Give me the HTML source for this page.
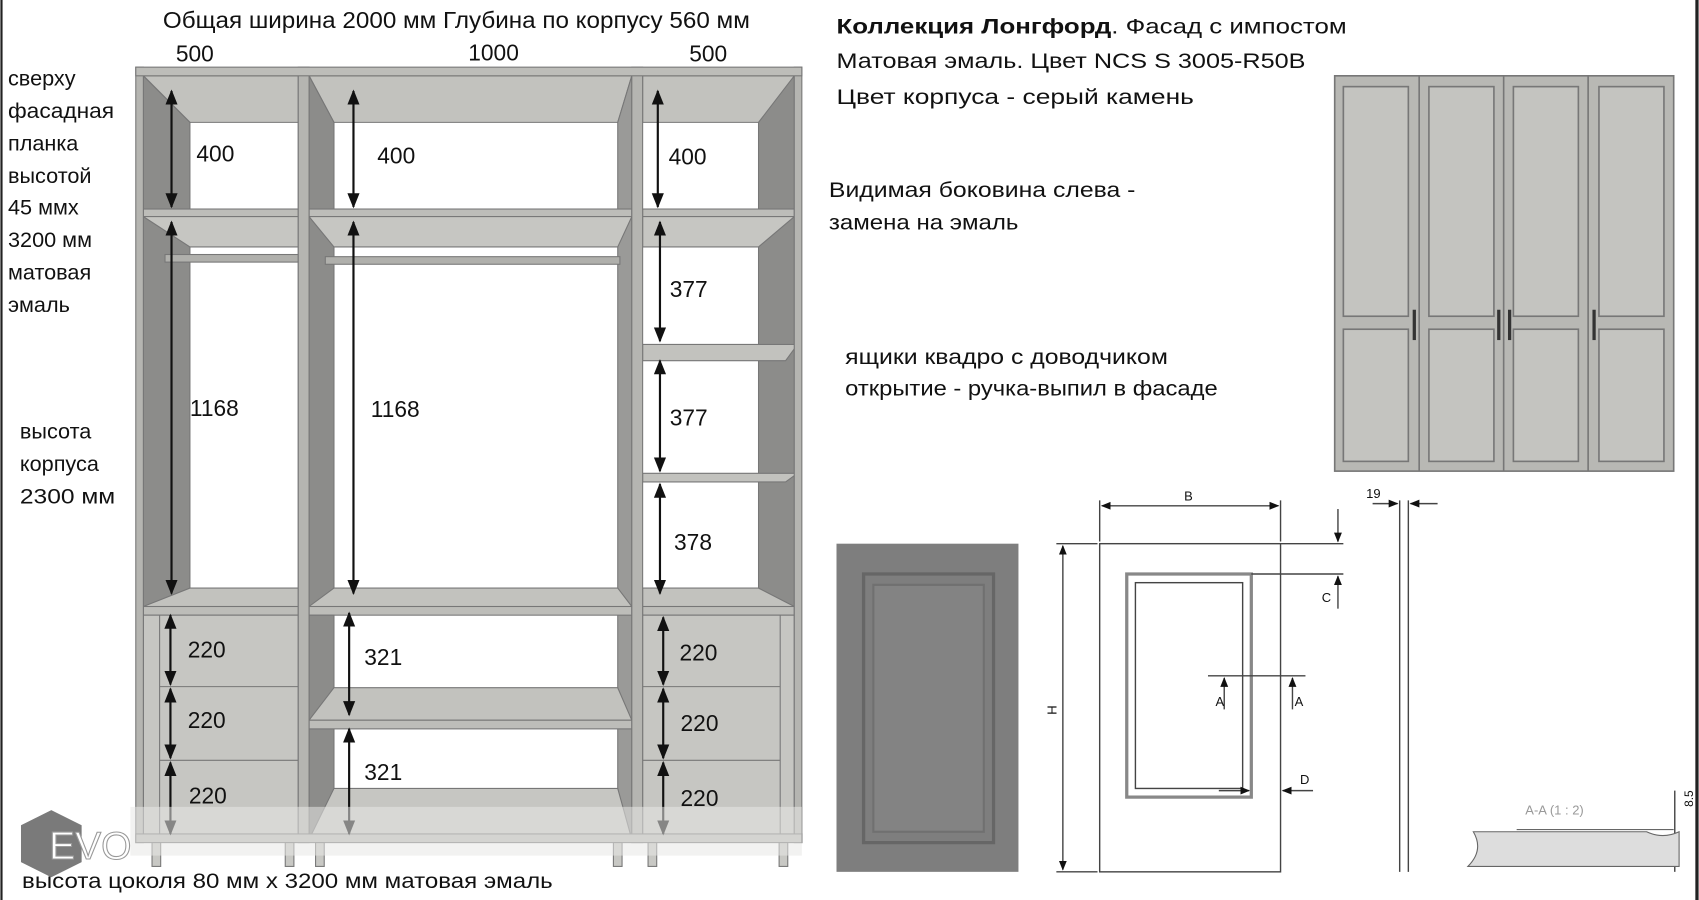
<!DOCTYPE html>
<html><head><meta charset="utf-8"><style>
html,body{margin:0;padding:0;background:#fff;}
svg{display:block;}
text{font-family:"Liberation Sans",sans-serif;fill:#111;}
</style></head><body>
<svg width="1699" height="900" viewBox="0 0 1568 831" xmlns="http://www.w3.org/2000/svg">
<defs>
<marker id="a" viewBox="0 0 10 10" refX="9" refY="5" markerWidth="7" markerHeight="7" orient="auto-start-reverse"><path d="M0,1 L10,5 L0,9 z" fill="#111"/></marker>
</defs>
<rect width="1568" height="831" fill="#fff"/>
<rect x="0" y="0" width="2" height="831" fill="#222"/>
<rect x="1565" y="0" width="3" height="831" fill="#222"/>

<g stroke="#777" stroke-width="1">
<rect x="132" y="70" width="143" height="705" fill="#fff"/>
<polygon points="132,70 275,70 275,113 175,113" fill="#c2c2be"/>
<polygon points="132,70 175,113 175,543 132,568" fill="#8c8c8a"/>
<polygon points="285,70 583,70 570,113 308,113" fill="#c2c2be"/>
<polygon points="285,70 308,113 308,543 285,568" fill="#8c8c8a"/>
<polygon points="570,113 583,70 583,775 570,760" fill="#9a9a98"/>
<polygon points="593,70 733,70 733,113 593,113" fill="#c2c2be"/>
<polygon points="700,113 733,70 733,565 700,545" fill="#8c8c8a"/>
<rect x="132" y="193" width="143" height="7" fill="#bdbdb9"/>
<polygon points="132,200 275,200 275,228 175,228" fill="#c6c6c2"/>
<rect x="285" y="193" width="298" height="7" fill="#bdbdb9"/>
<polygon points="285,200 583,200 570,228 308,228" fill="#c6c6c2"/>
<rect x="593" y="193" width="140" height="7" fill="#bdbdb9"/>
<polygon points="593,200 733,200 700,228 593,228" fill="#c6c6c2"/>
<rect x="152" y="235" width="123" height="7" fill="#b0b0ac"/>
<rect x="300" y="237" width="272" height="7" fill="#b0b0ac"/>
<polygon points="593,318 736,318 725,333 593,333" fill="#c2c2be"/>
<polygon points="593,437 736,437 725,445 593,445" fill="#c2c2be"/>
<polygon points="132,560 175,543 275,543 275,560" fill="#c2c2be"/>
<rect x="132" y="560" width="143" height="8" fill="#bdbdb9"/>
<polygon points="285,560 308,543 570,543 583,560" fill="#c2c2be"/>
<rect x="285" y="560" width="298" height="8" fill="#bdbdb9"/>
<polygon points="593,560 593,543 700,543 733,560" fill="#c2c2be"/>
<rect x="593" y="560" width="140" height="8" fill="#bdbdb9"/>
<rect x="132" y="568" width="143" height="207" fill="#c6c6c2"/>
<line x1="147" y1="568" x2="147" y2="775"/>
<line x1="147" y1="634" x2="275" y2="634"/><line x1="147" y1="702" x2="275" y2="702"/>
<rect x="593" y="568" width="140" height="207" fill="#c6c6c2"/>
<line x1="720" y1="568" x2="720" y2="775"/>
<line x1="593" y1="634" x2="720" y2="634"/><line x1="593" y1="702" x2="720" y2="702"/>
<polygon points="285,568 308,568 308,760 285,775" fill="#8c8c8a"/>
<polygon points="285,665 308,635 570,635 583,665" fill="#c2c2be"/>
<rect x="285" y="665" width="298" height="8" fill="#bdbdb9"/>
<polygon points="285,775 308,728 570,728 583,775" fill="#c6c6c2"/>
<rect x="125" y="62" width="7" height="716" fill="#b5b5b1"/>
<rect x="275" y="62" width="10" height="716" fill="#b5b5b1"/>
<rect x="583" y="62" width="10" height="716" fill="#b5b5b1"/>
<rect x="733" y="62" width="7" height="716" fill="#b5b5b1"/>
<rect x="125" y="62" width="615" height="8" fill="#bdbdb9"/>
<rect x="125" y="770" width="615" height="8" fill="#bdbdb9"/>
<rect x="140" y="778" width="8" height="22" fill="#c8c8c4"/>
<rect x="263" y="778" width="8" height="22" fill="#c8c8c4"/>
<rect x="291" y="778" width="8" height="22" fill="#c8c8c4"/>
<rect x="566" y="778" width="8" height="22" fill="#c8c8c4"/>
<rect x="598" y="778" width="8" height="22" fill="#c8c8c4"/>
<rect x="719" y="778" width="8" height="22" fill="#c8c8c4"/>
</g>

<g stroke="#111" stroke-width="2" marker-start="url(#a)" marker-end="url(#a)">
<line x1="158" y1="84" x2="158" y2="191"/>
<line x1="326" y1="84" x2="326" y2="191"/>
<line x1="607" y1="84" x2="607" y2="191"/>
<line x1="158" y1="205" x2="158" y2="548"/>
<line x1="326" y1="205" x2="326" y2="548"/>
<line x1="609" y1="205" x2="609" y2="315"/>
<line x1="609" y1="333" x2="609" y2="435"/>
<line x1="609" y1="447" x2="609" y2="548"/>
<line x1="157" y1="568" x2="157" y2="632"/>
<line x1="157" y1="636" x2="157" y2="700"/>
<line x1="157" y1="704" x2="157" y2="770"/>
<line x1="612" y1="570" x2="612" y2="632"/>
<line x1="612" y1="636" x2="612" y2="700"/>
<line x1="612" y1="704" x2="612" y2="770"/>
<line x1="322" y1="566" x2="322" y2="660"/>
<line x1="322" y1="673" x2="322" y2="770"/>
</g>
<g font-size="21">
<text x="181" y="149">400</text><text x="348" y="151">400</text><text x="617" y="152">400</text>
<text x="618" y="274">377</text><text x="618" y="393">377</text><text x="622" y="508">378</text>
<text x="175" y="384">1168</text><text x="342" y="385">1168</text>
<text x="173" y="607">220</text><text x="173" y="672">220</text><text x="174" y="742">220</text>
<text x="627" y="610">220</text><text x="628" y="675">220</text><text x="628" y="744">220</text>
<text x="336" y="614">321</text><text x="336" y="720">321</text>
<text x="162" y="57">500</text><text x="432" y="56">1000</text><text x="636" y="57">500</text>
<text x="150" y="26" textLength="542" lengthAdjust="spacingAndGlyphs">Общая ширина 2000 мм Глубина по корпусу 560 мм</text>
</g>
<g font-size="20">
<text x="7" y="79">сверху</text><text x="7" y="109" textLength="98" lengthAdjust="spacingAndGlyphs">фасадная</text><text x="7" y="139">планка</text>
<text x="7" y="169">высотой</text><text x="7" y="198">45 ммх</text><text x="7" y="228">3200 мм</text>
<text x="7" y="258">матовая</text><text x="7" y="288">эмаль</text>
<text x="18" y="405">высота</text><text x="18" y="435">корпуса</text><text x="18" y="465" textLength="88" lengthAdjust="spacingAndGlyphs">2300 мм</text>
<text x="20" y="820" textLength="490" lengthAdjust="spacingAndGlyphs">высота цоколя 80 мм х 3200 мм матовая эмаль</text>
<text x="772" y="31" textLength="471" lengthAdjust="spacingAndGlyphs"><tspan font-weight="bold">Коллекция Лонгфорд</tspan>. Фасад с импостом</text>
<text x="772" y="63" textLength="433" lengthAdjust="spacingAndGlyphs">Матовая эмаль. Цвет NCS S 3005-R50B</text>
<text x="772" y="96" textLength="330" lengthAdjust="spacingAndGlyphs">Цвет корпуса - серый камень</text>
<text x="765" y="182" textLength="283" lengthAdjust="spacingAndGlyphs">Видимая боковина  слева -</text>
<text x="765" y="212" textLength="175" lengthAdjust="spacingAndGlyphs">замена на эмаль</text>
<text x="780" y="336" textLength="298" lengthAdjust="spacingAndGlyphs">ящики квадро с доводчиком</text>
<text x="780" y="365" textLength="344" lengthAdjust="spacingAndGlyphs">открытие - ручка-выпил в фасаде</text>
</g>

<rect x="120" y="745" width="620" height="45" fill="#e8e8e6" opacity="0.55"/>
<polygon points="47,748 75,762 75,796 47,810 19,796 19,762" fill="#7a7a7a"/>
<text x="45" y="793" font-size="36" style="fill:#fff;stroke:#999;stroke-width:1">EVO</text>

<g stroke="#777" stroke-width="1.5" fill="#c4c4c0">
<rect x="1232" y="70" width="313" height="365" fill="#b8b8b4"/>
<rect x="1240" y="80" width="60" height="212"/><rect x="1240" y="304" width="60" height="122"/>
<rect x="1319" y="80" width="60" height="212"/><rect x="1319" y="304" width="60" height="122"/>
<rect x="1397" y="80" width="60" height="212"/><rect x="1397" y="304" width="60" height="122"/>
<rect x="1476" y="80" width="60" height="212"/><rect x="1476" y="304" width="60" height="122"/>
<line x1="1310" y1="70" x2="1310" y2="435"/><line x1="1388" y1="70" x2="1388" y2="435"/><line x1="1466" y1="70" x2="1466" y2="435"/>
</g>
<g fill="#333"><rect x="1304" y="286" width="3" height="28"/><rect x="1382" y="286" width="3" height="28"/><rect x="1392" y="286" width="3" height="28"/><rect x="1470" y="286" width="3" height="28"/></g>

<rect x="772" y="502" width="168" height="303" fill="#7e7e7e"/>
<rect x="797" y="530" width="120" height="248" fill="none" stroke="#666" stroke-width="3"/>
<rect x="806" y="540" width="102" height="228" fill="#838383" stroke="#707070" stroke-width="2"/>

<g stroke="#444" stroke-width="1.3" fill="none">
<rect x="1015" y="502" width="167" height="303"/>
<rect x="1040" y="530" width="115" height="206" stroke-width="3" stroke="#888"/>
<rect x="1048" y="538" width="99" height="190"/>
<line x1="1015" y1="462" x2="1015" y2="500"/><line x1="1182" y1="462" x2="1182" y2="500"/>
<line x1="1017" y1="467" x2="1180" y2="467" marker-start="url(#a)" marker-end="url(#a)"/>
<line x1="1182" y1="502" x2="1240" y2="502"/><line x1="1155" y1="530" x2="1240" y2="530"/>
<line x1="1235" y1="470" x2="1235" y2="500" marker-end="url(#a)"/>
<line x1="1235" y1="562" x2="1235" y2="532" marker-end="url(#a)"/>
<line x1="975" y1="502" x2="1013" y2="502"/><line x1="975" y1="805" x2="1013" y2="805"/>
<line x1="981" y1="504" x2="981" y2="803" marker-start="url(#a)" marker-end="url(#a)"/>
<line x1="1115" y1="624" x2="1205" y2="624"/>
<line x1="1130" y1="655" x2="1130" y2="626" marker-end="url(#a)"/>
<line x1="1193" y1="655" x2="1193" y2="626" marker-end="url(#a)"/>
<line x1="1125" y1="730" x2="1153" y2="730" marker-end="url(#a)"/>
<line x1="1212" y1="730" x2="1184" y2="730" marker-end="url(#a)"/>
<line x1="1292" y1="462" x2="1292" y2="805"/><line x1="1300" y1="462" x2="1300" y2="805"/>
<line x1="1267" y1="465" x2="1290" y2="465" marker-end="url(#a)"/>
<line x1="1327" y1="465" x2="1302" y2="465" marker-end="url(#a)"/>
<line x1="1546" y1="730" x2="1546" y2="805"/>
</g>
<g font-size="12" style="fill:#333">
<text x="1093" y="462">B</text><text x="1220" y="556">C</text><text x="1122" y="652">A</text><text x="1195" y="652">A</text>
<text x="1200" y="724">D</text><text x="1261" y="460">19</text><text x="1408" y="752" style="fill:#999">A-A (1 : 2)</text>
<text x="975" y="660" transform="rotate(-90 975 660)">H</text>
<text x="1563" y="745" transform="rotate(-90 1563 745)" font-size="11">8.5</text>
</g>
<path d="M1360,768 L1520,768 Q1535,775 1550,768 L1550,800 L1355,800 Q1370,785 1360,768 z" fill="#ddd" stroke="#666"/>
<line x1="1400" y1="766" x2="1545" y2="766" stroke="#666"/>
</svg>
</body></html>
